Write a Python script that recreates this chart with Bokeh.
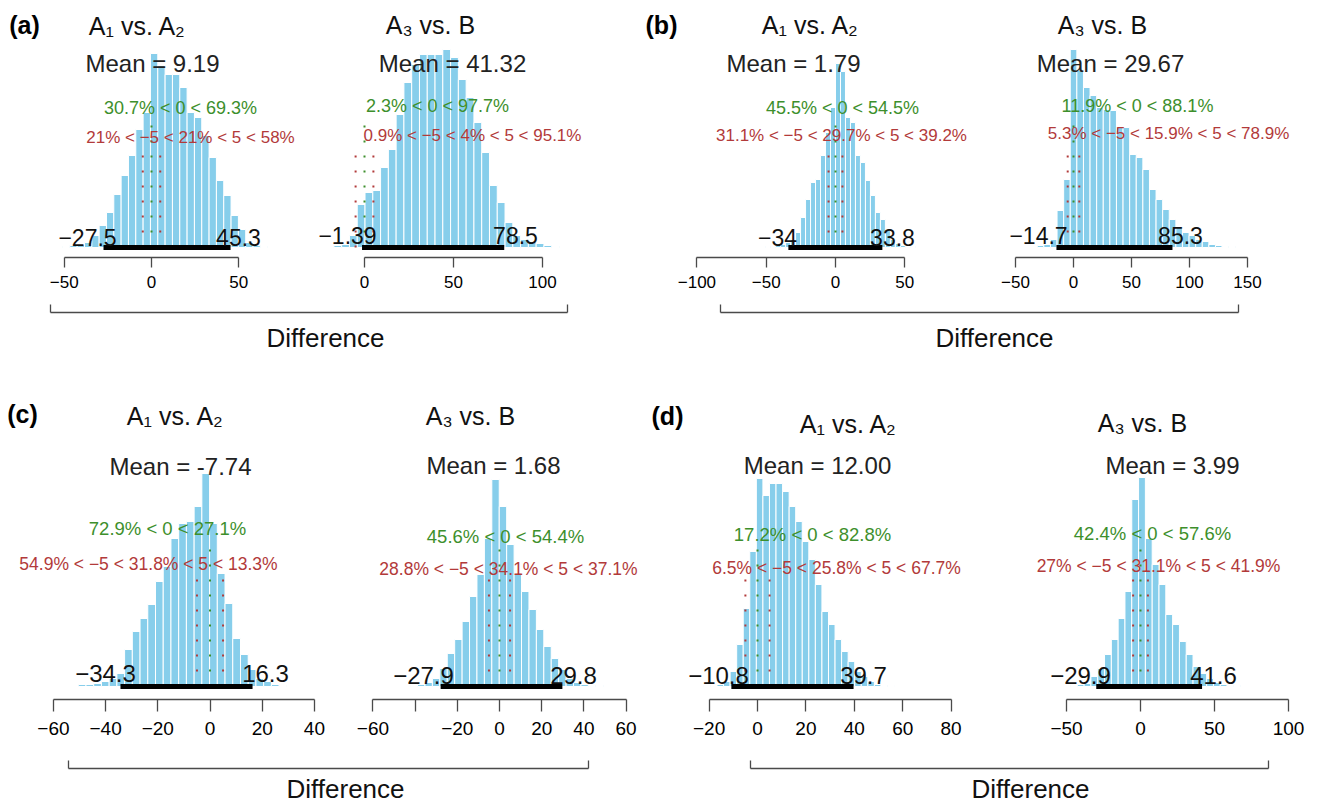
from bokeh.plotting import figure
from bokeh.layouts import column, row
from bokeh.models import Range1d, FixedTicker
from bokeh.embed import file_html
from bokeh.resources import INLINE
from bokeh.core.properties import value

FONT = "Liberation Sans"
BAR = "#87CEEB"
GREEN = "#3d8f2c"
RED = "#b23a3a"
AXIS = "#4a4a4a"
MINUS = "\u2212"

# ---------------- data ----------------
titles = {"A1": "A\u2081 vs. A\u2082", "A3": "A\u2083 vs. B"}

# (a) A1 vs A2
a1_first, a1_bin = -48.9, 4.2
a1_freq = [1, 2, 3, 5, 12, 22, 35, 53, 72, 92, 118, 135, 194, 182, 173, 173, 160, 135,
           130, 112, 90, 67, 52, 32, 18, 5, 2, 1]
a1_mean, a1_hdi = 9.19, (-27.5, 45.3)
a1_green, a1_red = ("30.7", "69.3"), ("21", "21", "58")
a1_ticks, a1_unlabeled = [-50, 0, 50], []

# (a) A3 vs B
a3_first, a3_bin = -15.0, 4.37
a3_freq = [2, 3, 12, 43, 55, 57, 80, 98, 133, 165, 183, 193, 193, 193, 198, 190, 168, 150,
           125, 95, 62, 45, 25, 12, 8, 6, 4, 2, 1]
a3_mean, a3_hdi = 41.32, (-1.39, 78.5)
a3_green, a3_red = ("2.3", "97.7"), ("0.9", "4", "95.1")
a3_ticks, a3_unlabeled = [0, 50, 100], []

# (b) A1 vs A2
b1_first, b1_bin = -48.6, 3.6
b1_freq = [1, 1, 2, 3, 5, 8, 15, 30, 48, 65, 68, 92, 115, 140, 184, 176, 130, 125, 92, 85,
           67, 52, 35, 28, 17, 8, 4, 2, 1, 1]
b1_mean, b1_hdi = 1.79, (-34, 33.8)
b1_green, b1_red = ("45.5", "54.5"), ("31.1", "29.7", "39.2")
b1_ticks, b1_unlabeled = [-100, -50, 0, 50], []

# (b) A3 vs B
b3_first, b3_bin = -28.4, 5.69
b3_freq = [2, 3, 8, 37, 68, 198, 177, 160, 152, 140, 138, 137, 120, 120, 93, 90, 78, 58,
           48, 38, 28, 20, 15, 12, 8, 6, 3, 2, 1, 1]
b3_mean, b3_hdi = 29.67, (-14.7, 85.3)
b3_green, b3_red = ("11.9", "88.1"), ("5.3", "15.9", "78.9")
b3_ticks, b3_unlabeled = [-50, 0, 50, 100, 150], []

# (c) A1 vs A2
c1_first, c1_bin = -49.0, 2.96
c1_freq = [2, 2, 3, 5, 8, 13, 37, 55, 68, 82, 105, 120, 148, 163, 165, 180, 213, 163, 113,
           83, 48, 32, 17, 8, 5, 2, 1]
c1_mean, c1_hdi = -7.74, (-34.3, 16.3)
c1_green, c1_red = ("72.9", "27.1"), ("54.9", "31.8", "13.3")
c1_ticks, c1_unlabeled = [-60, -40, -20, 0, 20, 40], []

# (c) A3 vs B
c3_first, c3_bin = -40.6, 3.52
c3_freq = [1, 2, 4, 8, 18, 33, 47, 65, 90, 112, 148, 207, 180, 142, 112, 95, 77, 57, 40,
           28, 17, 8, 4, 2, 1, 1]
c3_mean, c3_hdi = 1.68, (-27.9, 29.8)
c3_green, c3_red = ("45.6", "54.4"), ("28.8", "34.1", "37.1")
c3_ticks, c3_unlabeled = [-60, -20, 0, 20, 40, 60], [-40]

# (d) A1 vs A2
d1_first, d1_bin = -20.8, 2.71
d1_freq = [1, 1, 2, 5, 15, 42, 78, 135, 208, 191, 203, 203, 195, 180, 165, 145, 127, 102,
           75, 62, 47, 35, 25, 15, 10, 5, 2, 1, 1]
d1_mean, d1_hdi = 12.00, (-10.8, 39.7)
d1_green, d1_red = ("17.2", "82.8"), ("6.5", "25.8", "67.7")
d1_ticks, d1_unlabeled = [-20, 0, 20, 40, 60, 80], []

# (d) A3 vs B
d3_first, d3_bin = -45.0, 4.6
d3_freq = [1, 2, 3, 10, 18, 32, 47, 68, 95, 187, 209, 148, 122, 102, 72, 62, 45, 32, 20,
           13, 8, 4, 2, 1, 1]
d3_mean, d3_hdi = 3.99, (-29.9, 41.6)
d3_green, d3_red = ("42.4", "57.6"), ("27", "31.1", "41.9")
d3_ticks, d3_unlabeled = [-50, 0, 50, 100], []

ROPE = (-5, 5)
COMP = 0

# ---------------- layout (pixels) ----------------
R1 = dict(top=0, frame_bottom=257, base=247, fig_bottom=300, tick_out=10, standoff=8,
          tick_font="17px", red_top=104, green_top=131, green_fs="18px", red_fs="17px",
          hdi_fs="23px", hdi_w=5)
R2 = dict(top=362, frame_bottom=699, base=686, fig_bottom=745, tick_out=12, standoff=10,
          tick_font="19px", red_top=112, green_top=143, green_fs="18.5px", red_fs="17.5px",
          hdi_fs="24px", hdi_w=5)


def style_axis(ax, tick_out):
    ax.major_tick_out = tick_out
    ax.major_tick_in = 0
    ax.minor_tick_out = tick_out
    ax.minor_tick_in = 0
    ax.axis_line_color = AXIS
    ax.axis_line_width = 1.3
    ax.major_tick_line_color = AXIS
    ax.major_tick_line_width = 1.3
    ax.minor_tick_line_color = AXIS
    ax.minor_tick_line_width = 1.3


def make_panel(lay, R, kind, first, binw, freq, mean, hdi, green, red, ticks, unlabeled):
    X0, X1, zero, k = lay["X0"], lay["X1"], lay["zero"], lay["k"]
    p = figure(width=X1 - X0, height=R["fig_bottom"] - R["top"],
               x_range=Range1d((X0 - zero) / k, (X1 - zero) / k),
               y_range=Range1d(R["base"] - R["frame_bottom"], R["base"] - R["top"]),
               min_border_left=0, min_border_right=0, min_border_top=0,
               min_border_bottom=R["fig_bottom"] - R["frame_bottom"],
               toolbar_location=None, output_backend="svg", y_axis_location=None,
               outline_line_color=None, background_fill_color="white",
               border_fill_color="white")
    p.xgrid.visible = False
    p.ygrid.visible = False
    ax = p.xaxis[0]
    allt = sorted(list(ticks) + list(unlabeled))
    ax.ticker = FixedTicker(ticks=ticks, minor_ticks=unlabeled)
    ax.bounds = (allt[0], allt[-1])
    style_axis(ax, R["tick_out"])
    ax.major_label_text_font = FONT
    ax.major_label_text_font_size = R["tick_font"]
    ax.major_label_text_color = "black"
    ax.major_label_standoff = R["standoff"]

    centers = [first + binw * i for i in range(len(freq))]
    p.quad(left=[c - binw / 2 for c in centers], right=[c + binw / 2 for c in centers],
           bottom=0, top=freq, fill_color=BAR, line_color="white", line_width=1)

    p.segment(x0=list(ROPE), y0=[0, 0], x1=list(ROPE), y1=[R["red_top"]] * 2,
              line_color=RED, line_width=2, line_dash="2 13")
    p.segment(x0=[COMP], y0=[0], x1=[COMP], y1=[R["green_top"]],
              line_color=GREEN, line_width=2, line_dash="2 13")
    p.segment(x0=[hdi[0]], y0=[0], x1=[hdi[1]], y1=[0], line_color="black",
              line_width=R["hdi_w"])

    def X(px):
        return (px - zero) / k

    def Y(py):
        return R["base"] - py

    def txt(pos, s, size, color="black", style="normal"):
        p.text(x=[X(pos[0])], y=[Y(pos[1])], text=[s], text_font=value(FONT),
               text_font_size=size, text_color=color, text_align="center",
               text_baseline="middle", text_font_style=style)

    txt(lay["title"], titles[kind], "25px", "#111111")
    txt(lay["mean"], f"Mean = {mean:.2f}", "24px", "#222222")
    txt(lay["green"], f"{green[0]}% < {COMP} < {green[1]}%", R["green_fs"], GREEN)
    txt(lay["red"], f"{red[0]}% < {MINUS}{abs(ROPE[0])} < {red[1]}% < {ROPE[1]} < {red[2]}%",
        R["red_fs"], RED)
    txt(lay["lo"], f"{hdi[0]:g}".replace("-", MINUS), R["hdi_fs"], "#111111")
    txt(lay["hi"], f"{hdi[1]:g}".replace("-", MINUS), R["hdi_fs"], "#111111")
    if "tag" in lay:
        s, tx, ty = lay["tag"]
        txt((tx, ty), s, "25px", "black", "bold")
    return p


def make_bracket(GX0, GX1, top, bottom, line_y, bx0, bx1, lab):
    f = figure(width=GX1 - GX0, height=bottom - top,
               x_range=Range1d(GX0, GX1), y_range=Range1d(-bottom, -line_y),
               min_border_left=0, min_border_right=0, min_border_top=line_y - top,
               min_border_bottom=0, toolbar_location=None, output_backend="svg",
               x_axis_location="above", y_axis_location=None, outline_line_color=None,
               background_fill_color="white", border_fill_color="white")
    f.xgrid.visible = False
    f.ygrid.visible = False
    ax = f.xaxis[0]
    # bracket = axis line with two unlabeled (minor) end ticks
    ax.ticker = FixedTicker(ticks=[], minor_ticks=[bx0, bx1])
    ax.bounds = (bx0, bx1)
    style_axis(ax, 8)
    ax.major_label_standoff = 0
    f.text(x=[lab[0]], y=[-lab[1]], text=["Difference"], text_font=value(FONT),
           text_font_size="26px", text_color="#111111", text_align="center",
           text_baseline="middle")
    return f


L = {
    "a1": dict(X0=0, X1=300, zero=151, k=1.745, title=(137, 25), mean=(152, 63),
               green=(180, 107), red=(190, 137), lo=(87, 237), hi=(238, 237), tag=("(a)", 24, 24)),
    "a3": dict(X0=300, X1=620, zero=364, k=1.78, title=(430, 24), mean=(452, 63),
               green=(437, 105), red=(472, 135), lo=(347, 235), hi=(515, 235)),
    "b1": dict(X0=620, X1=985, zero=835, k=1.386, title=(810, 24), mean=(793, 63),
               green=(842, 107), red=(841, 135), lo=(777, 237), hi=(892, 237), tag=("(b)", 661, 24)),
    "b3": dict(X0=985, X1=1317, zero=1073, k=1.16, title=(1102, 24), mean=(1110, 63),
               green=(1137, 105), red=(1168, 133), lo=(1038, 235), hi=(1180, 235)),
    "c1": dict(X0=0, X1=330, zero=209.5, k=2.61, title=(175, 415), mean=(180, 466),
               green=(167, 528), red=(148, 563), lo=(105, 673), hi=(265, 673), tag=("(c)", 22, 413)),
    "c3": dict(X0=330, X1=647, zero=499, k=2.11, title=(470, 415), mean=(493, 465),
               green=(505, 536), red=(508, 568), lo=(423, 675), hi=(573, 675)),
    "d1": dict(X0=647, X1=995, zero=757, k=2.42, title=(848, 423), mean=(817, 465),
               green=(812, 534), red=(836, 567), lo=(718, 675), hi=(863, 675), tag=("(d)", 667, 415)),
    "d3": dict(X0=995, X1=1317, zero=1140, k=1.48, title=(1142, 422), mean=(1172, 465),
               green=(1152, 533), red=(1158, 565), lo=(1080, 675), hi=(1213, 675)),
}

pa1 = make_panel(L["a1"], R1, "A1", a1_first, a1_bin, a1_freq, a1_mean, a1_hdi, a1_green, a1_red, a1_ticks, a1_unlabeled)
pa3 = make_panel(L["a3"], R1, "A3", a3_first, a3_bin, a3_freq, a3_mean, a3_hdi, a3_green, a3_red, a3_ticks, a3_unlabeled)
pb1 = make_panel(L["b1"], R1, "A1", b1_first, b1_bin, b1_freq, b1_mean, b1_hdi, b1_green, b1_red, b1_ticks, b1_unlabeled)
pb3 = make_panel(L["b3"], R1, "A3", b3_first, b3_bin, b3_freq, b3_mean, b3_hdi, b3_green, b3_red, b3_ticks, b3_unlabeled)
pc1 = make_panel(L["c1"], R2, "A1", c1_first, c1_bin, c1_freq, c1_mean, c1_hdi, c1_green, c1_red, c1_ticks, c1_unlabeled)
pc3 = make_panel(L["c3"], R2, "A3", c3_first, c3_bin, c3_freq, c3_mean, c3_hdi, c3_green, c3_red, c3_ticks, c3_unlabeled)
pd1 = make_panel(L["d1"], R2, "A1", d1_first, d1_bin, d1_freq, d1_mean, d1_hdi, d1_green, d1_red, d1_ticks, d1_unlabeled)
pd3 = make_panel(L["d3"], R2, "A3", d3_first, d3_bin, d3_freq, d3_mean, d3_hdi, d3_green, d3_red, d3_ticks, d3_unlabeled)

bra = make_bracket(0, 620, 300, 362, 312, 50, 567, (325, 337))
brb = make_bracket(620, 1317, 300, 362, 312, 720, 1238, (994, 337))
brc = make_bracket(0, 647, 745, 805, 768, 68, 588, (345, 788))
brd = make_bracket(647, 1317, 745, 805, 768, 750, 1268, (1030, 788))

layout = column(row(pa1, pa3, pb1, pb3), row(bra, brb),
                row(pc1, pc3, pd1, pd3), row(brc, brd))

open("out.html", "w").write(file_html(layout, INLINE, title="Posterior differences"))
